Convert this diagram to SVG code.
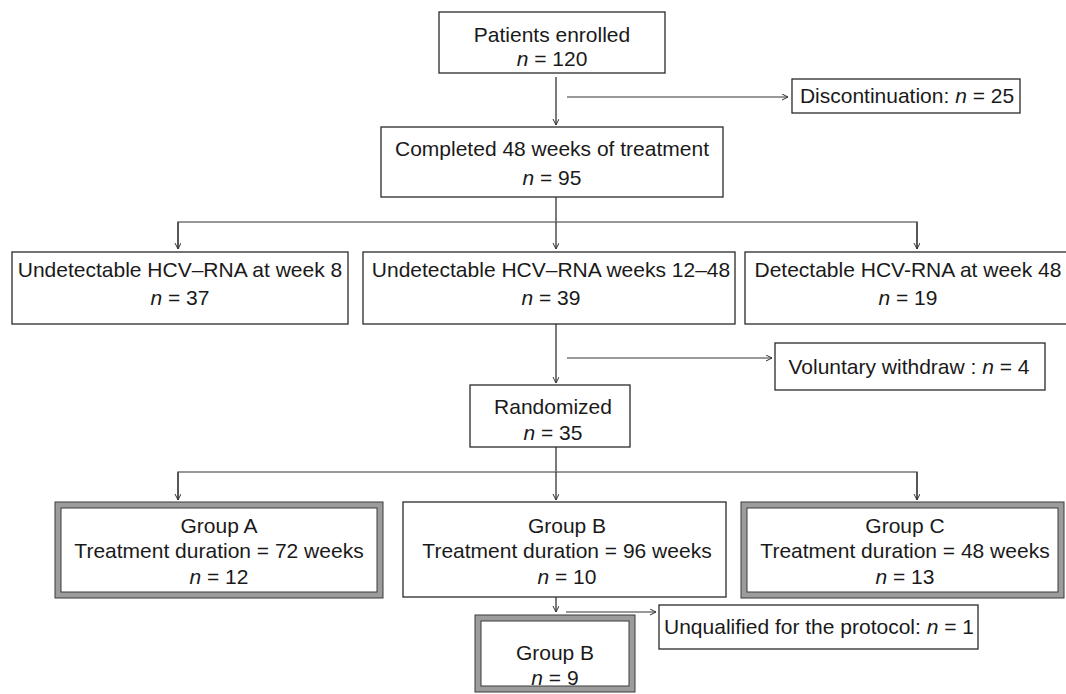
<svg xmlns="http://www.w3.org/2000/svg" width="1066" height="694" viewBox="0 0 1066 694">
<style>
text{font-family:"Liberation Sans",Arial,sans-serif;font-size:21px;fill:#1a1a1a;text-anchor:middle}
.it{font-style:italic}
.box{fill:#fff;stroke:#2a2a2a;stroke-width:1.3}
.dbl-o{fill:#fff;stroke:#9c9c9c;stroke-width:6}
.dbl-l{fill:none;stroke:#3a3a3a;stroke-width:1}
.ln{fill:none;stroke:#333;stroke-width:1.3}
.ln2{fill:none;stroke:#777;stroke-width:1.5}
</style>
<defs>
<marker id="ah" markerWidth="8" markerHeight="8" refX="6" refY="3" orient="auto" markerUnits="userSpaceOnUse">
<path d="M0,0 L6,3 L0,6" fill="none" stroke="#333" stroke-width="1"/>
</marker>
</defs>
<g id="connectors">
<line class="ln" x1="556" y1="77" x2="556" y2="125" marker-end="url(#ah)"/>
<line class="ln2" x1="567" y1="97" x2="788" y2="97" marker-end="url(#ah)"/>
<line class="ln" x1="556" y1="197" x2="556" y2="222"/>
<path class="ln2" d="M178,249 V222 H917 V249"/>
<line class="ln" x1="178" y1="222" x2="178" y2="249" marker-end="url(#ah)"/>
<line class="ln" x1="556" y1="222" x2="556" y2="249" marker-end="url(#ah)"/>
<line class="ln" x1="917" y1="222" x2="917" y2="249" marker-end="url(#ah)"/>
<line class="ln" x1="556" y1="324" x2="556" y2="383" marker-end="url(#ah)"/>
<line class="ln2" x1="567" y1="358" x2="772" y2="358" marker-end="url(#ah)"/>
<line class="ln" x1="556" y1="447" x2="556" y2="472"/>
<path class="ln2" d="M178,500 V472 H917 V500"/>
<line class="ln" x1="178" y1="472" x2="178" y2="500" marker-end="url(#ah)"/>
<line class="ln" x1="556" y1="472" x2="556" y2="500" marker-end="url(#ah)"/>
<line class="ln" x1="917" y1="472" x2="917" y2="500" marker-end="url(#ah)"/>
<line class="ln" x1="556" y1="597" x2="556" y2="612" marker-end="url(#ah)"/>
<line class="ln2" x1="566" y1="612" x2="656" y2="612" marker-end="url(#ah)"/>
</g>
<g id="n_enrolled">
<rect class="box" x="439" y="12" width="226" height="61"/>
<text x="552" y="42">Patients enrolled</text>
<text x="552" y="66"><tspan class="it">n</tspan> = 120</text>
</g>
<g id="n_discont">
<rect class="box" x="792" y="79" width="228" height="34"/>
<text x="907" y="103"><tspan>Discontinuation: </tspan><tspan class="it">n</tspan> = 25</text>
</g>
<g id="n_completed">
<rect class="box" x="381" y="127" width="342" height="70"/>
<text x="552" y="156">Completed 48 weeks of treatment</text>
<text x="552" y="185"><tspan class="it">n</tspan> = 95</text>
</g>
<g id="n_wk8">
<rect class="box" x="12" y="252" width="336" height="72"/>
<text x="180" y="277">Undetectable HCV–RNA at week 8</text>
<text x="180" y="305"><tspan class="it">n</tspan> = 37</text>
</g>
<g id="n_wk12">
<rect class="box" x="363" y="252" width="372" height="72"/>
<text x="551" y="277">Undetectable HCV–RNA weeks 12–48</text>
<text x="551" y="305"><tspan class="it">n</tspan> = 39</text>
</g>
<g id="n_wk48">
<rect class="box" x="745" y="252" width="335" height="72"/>
<text x="908" y="277">Detectable HCV-RNA at week 48</text>
<text x="908" y="305"><tspan class="it">n</tspan> = 19</text>
</g>
<g id="n_withdraw">
<rect class="box" x="775" y="343" width="270" height="47"/>
<text x="909" y="374">Voluntary withdraw : <tspan class="it">n</tspan> = 4</text>
</g>
<g id="n_random">
<rect class="box" x="470" y="385" width="160" height="62"/>
<text x="553" y="414">Randomized</text>
<text x="553" y="440"><tspan class="it">n</tspan> = 35</text>
</g>
<g id="n_groupA">
<rect class="dbl-o" x="58" y="505" width="322" height="90"/>
<rect class="dbl-l" x="55" y="502" width="328" height="96"/>
<rect class="dbl-l" x="61" y="508" width="316" height="84"/>
<text x="219" y="533">Group A</text>
<text x="219" y="558">Treatment duration = 72 weeks</text>
<text x="219" y="584"><tspan class="it">n</tspan> = 12</text>
</g>
<g id="n_groupB">
<rect class="box" x="403" y="502" width="323" height="95"/>
<text x="567" y="533">Group B</text>
<text x="567" y="558">Treatment duration = 96 weeks</text>
<text x="567" y="584"><tspan class="it">n</tspan> = 10</text>
</g>
<g id="n_groupC">
<rect class="dbl-o" x="744" y="505" width="317" height="90"/>
<rect class="dbl-l" x="741" y="502" width="323" height="96"/>
<rect class="dbl-l" x="747" y="508" width="311" height="84"/>
<text x="905" y="533">Group C</text>
<text x="905" y="558">Treatment duration = 48 weeks</text>
<text x="905" y="584"><tspan class="it">n</tspan> = 13</text>
</g>
<g id="n_unqual">
<rect class="box" x="659" y="605" width="319" height="44"/>
<text x="819" y="634">Unqualified for the protocol: <tspan class="it">n</tspan> = 1</text>
</g>
<g id="n_groupB2">
<rect class="dbl-o" x="478" y="618" width="154" height="71"/>
<rect class="dbl-l" x="475" y="615" width="160" height="77"/>
<rect class="dbl-l" x="481" y="621" width="148" height="65"/>
<text x="555" y="660">Group B</text>
<text x="555" y="685"><tspan class="it">n</tspan> = 9</text>
</g>
</svg>
